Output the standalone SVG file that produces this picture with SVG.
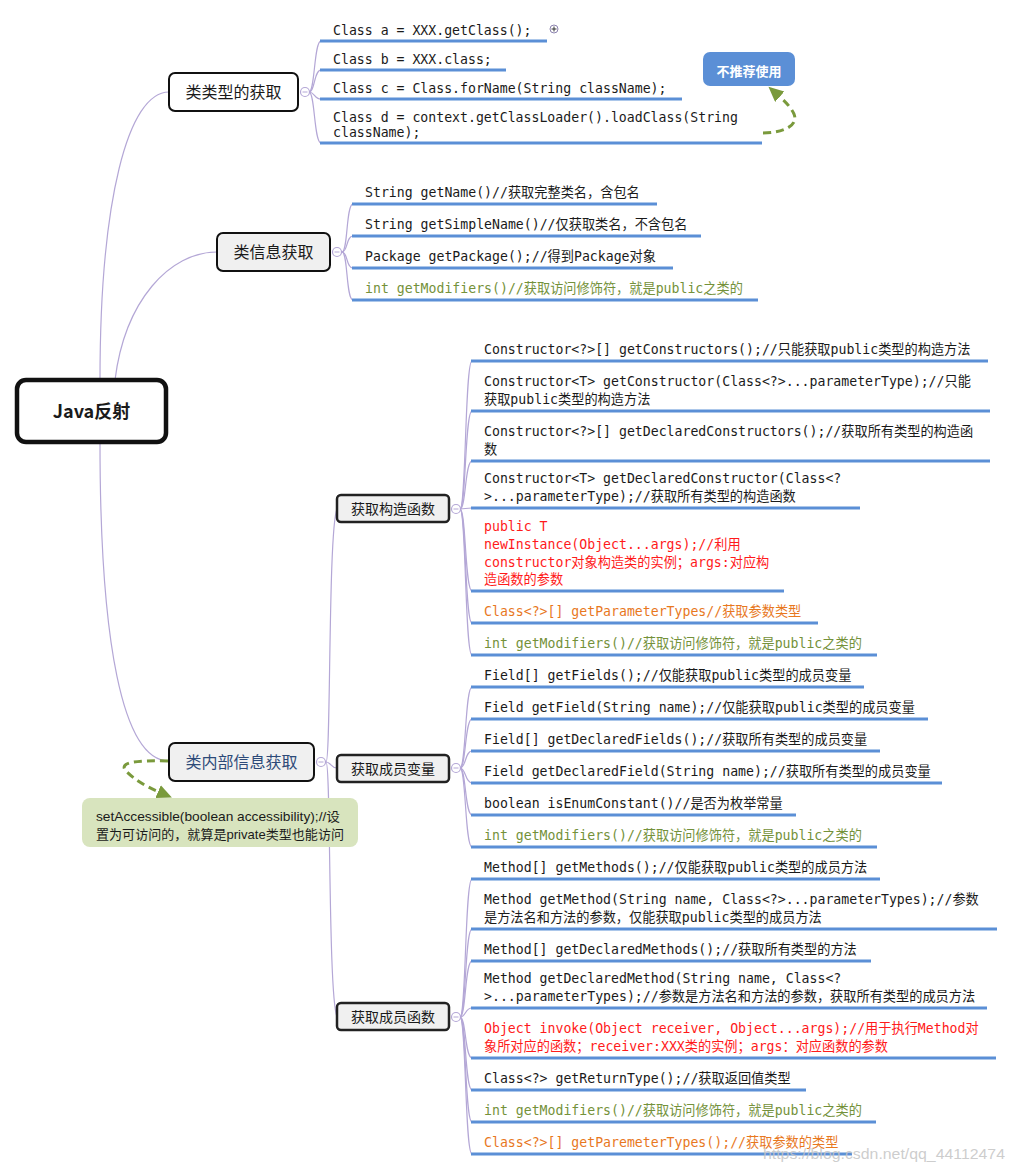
<svg xmlns="http://www.w3.org/2000/svg" width="1013" height="1171" viewBox="0 0 1013 1171">
<style>
.conn{fill:none;stroke:#b4a7d6;stroke-width:1.2}
.ul{stroke:#5b8fd6;stroke-width:3}
.code{font-family:"DejaVu Sans Mono","Noto Sans CJK SC",monospace;font-size:13.2px;fill:#1a1a1a;transform:translateY(1px)}
.red{fill:#ff1a1a}
.orange{fill:#e8781e}
.green{fill:#74913a}
.lbl{font-family:"Noto Sans CJK SC","Noto Sans",sans-serif;fill:#1a1a1a;text-anchor:middle}
.col{fill:#fff;stroke:#b4a7d6;stroke-width:1.2}
.dash{fill:none;stroke:#7a9a3c;stroke-width:3;stroke-dasharray:8 5}
</style>
<defs>
<marker id="ah" markerUnits="userSpaceOnUse" markerWidth="16" markerHeight="16" refX="1" refY="7" orient="auto">
<path d="M0,0 L15,7 L0,14 z" fill="#7a9a3c"/>
</marker>
</defs>

<g id="connectors">
<path class="conn" d="M100,380 C100,200 128,92 169,92"/>
<path class="conn" d="M115,380 C125,300 170,252 217,252"/>
<path class="conn" d="M100,443 C100,640 122,761 169,761"/>
<!-- branch 1 -->
<path class="conn" d="M309,92 C315,92 314,41 321,41"/>
<path class="conn" d="M309,92 C315,92 314,70 321,70"/>
<path class="conn" d="M309,92 C315,92 314,99 321,99"/>
<path class="conn" d="M309,92 C315,92 314,143 321,143"/>
<!-- branch 2 -->
<path class="conn" d="M342,252 C348,252 346,204 353,204"/>
<path class="conn" d="M342,252 C348,252 346,236 353,236"/>
<path class="conn" d="M342,252 C348,252 346,268 353,268"/>
<path class="conn" d="M342,252 C348,252 346,300 353,300"/>
<!-- branch 3 trunk -->
<path class="conn" d="M326,762 C331,762 328,530 337,509"/>
<path class="conn" d="M326,762 C331,762 331,768 337,768"/>
<path class="conn" d="M326,762 C331,762 328,995 337,1017"/>
<!-- constructors -->
<path class="conn" d="M460,509 C466,509 465,361 472,361"/>
<path class="conn" d="M460,509 C466,509 465,411 472,411"/>
<path class="conn" d="M460,509 C466,509 465,461 472,461"/>
<path class="conn" d="M460,509 C466,509 465,508 472,508"/>
<path class="conn" d="M460,509 C466,509 465,591 472,591"/>
<path class="conn" d="M460,509 C466,509 465,623 472,623"/>
<path class="conn" d="M460,509 C466,509 465,655 472,655"/>
<!-- fields -->
<path class="conn" d="M460,768 C466,768 465,687 472,687"/>
<path class="conn" d="M460,768 C466,768 465,719 472,719"/>
<path class="conn" d="M460,768 C466,768 465,751 472,751"/>
<path class="conn" d="M460,768 C466,768 465,783 472,783"/>
<path class="conn" d="M460,768 C466,768 465,815 472,815"/>
<path class="conn" d="M460,768 C466,768 465,847 472,847"/>
<!-- methods -->
<path class="conn" d="M460,1017 C466,1017 465,879 472,879"/>
<path class="conn" d="M460,1017 C466,1017 465,929 472,929"/>
<path class="conn" d="M460,1017 C466,1017 465,961 472,961"/>
<path class="conn" d="M460,1017 C466,1017 465,1008 472,1008"/>
<path class="conn" d="M460,1017 C466,1017 465,1058 472,1058"/>
<path class="conn" d="M460,1017 C466,1017 465,1090 472,1090"/>
<path class="conn" d="M460,1017 C466,1017 465,1122 472,1122"/>
<path class="conn" d="M460,1017 C466,1017 465,1154 472,1154"/>
<!-- callout arrows -->
<path class="dash" d="M763,133 C782,133 799,126 794,114 C791,108 787,103 779,96" marker-end="url(#ah)"/>
<path class="dash" d="M168,761 C138,760 116,762 127,772 C134,779 145,786 159,792" marker-end="url(#ah)"/>
</g>

<g id="root">
<rect x="17" y="380" width="149" height="62" rx="9" fill="#fff" stroke="#111" stroke-width="4.5"/>
<text class="lbl" x="91.5" y="418" font-size="18" font-weight="bold">Java反射</text>
</g>

<g id="n-class-type">
<rect x="169" y="73" width="129" height="38" rx="6" fill="#fff" stroke="#111" stroke-width="2"/>
<text class="lbl" x="233.5" y="98" font-size="16">类类型的获取</text>
<circle class="col" cx="305" cy="92" r="4.5"/><line x1="302.5" y1="92" x2="307.5" y2="92" stroke="#b4a7d6"/>
<line class="ul" x1="320" y1="41" x2="547" y2="41"/>
<text class="code" x="333" y="34">Class a = XXX.getClass();</text>
<circle cx="554" cy="29" r="4" fill="#fff" stroke="#8d84b0" stroke-width="1"/>
<line x1="551.5" y1="29" x2="556.5" y2="29" stroke="#333"/><line x1="554" y1="26.5" x2="554" y2="31.5" stroke="#333"/>
<line class="ul" x1="320" y1="70" x2="506" y2="70"/>
<text class="code" x="333" y="63">Class b = XXX.class;</text>
<line class="ul" x1="320" y1="99" x2="682" y2="99"/>
<text class="code" x="333" y="92">Class c = Class.forName(String className);</text>
<line class="ul" x1="320" y1="143" x2="762" y2="143"/>
<text class="code" x="333" y="121">Class d = context.getClassLoader().loadClass(String</text>
<text class="code" x="333" y="136">className);</text>
</g>

<g id="n-not-recommended">
<rect x="703" y="52" width="92" height="34" rx="7" fill="#5b8fd6"/>
<text class="lbl" x="749" y="75.5" font-size="13" font-weight="600" style="fill:#fff">不推荐使用</text>
</g>

<g id="n-class-info">
<rect x="217" y="233" width="113" height="38" rx="6" fill="#f0f0f0" stroke="#111" stroke-width="2"/>
<text class="lbl" x="273.5" y="258" font-size="16">类信息获取</text>
<circle class="col" cx="337" cy="252" r="4.5"/><line x1="334.5" y1="252" x2="339.5" y2="252" stroke="#b4a7d6"/>
<line class="ul" x1="352" y1="204" x2="657" y2="204"/>
<text class="code" x="365" y="196">String getName()//获取完整类名，含包名</text>
<line class="ul" x1="352" y1="236" x2="701" y2="236"/>
<text class="code" x="365" y="228">String getSimpleName()//仅获取类名，不含包名</text>
<line class="ul" x1="352" y1="268" x2="673" y2="268"/>
<text class="code" x="365" y="260">Package getPackage();//得到Package对象</text>
<line class="ul" x1="352" y1="300" x2="758" y2="300"/>
<text class="code green" x="365" y="292">int getModifiers()//获取访问修饰符，就是public之类的</text>
</g>

<g id="n-class-inner">
<rect x="169" y="743" width="145" height="38" rx="6" fill="#f0f0f0" stroke="#111" stroke-width="2"/>
<text class="lbl" x="241.5" y="768" font-size="16" style="fill:#2d4a78">类内部信息获取</text>
<circle class="col" cx="321" cy="762" r="4.5"/><line x1="318.5" y1="762" x2="323.5" y2="762" stroke="#b4a7d6"/>
</g>

<g id="n-set-accessible">
<rect x="82" y="798" width="276" height="49" rx="8" fill="#d8e4be"/>
<text x="96" y="821" font-family="'Liberation Sans','Noto Sans CJK SC',sans-serif" font-size="12.7" fill="#1a1a1a" textLength="244" lengthAdjust="spacingAndGlyphs">setAccessible(boolean accessibility);//设</text>
<text x="96" y="838.5" font-family="'Liberation Sans','Noto Sans CJK SC',sans-serif" font-size="12.7" fill="#1a1a1a" textLength="248" lengthAdjust="spacingAndGlyphs">置为可访问的，就算是private类型也能访问</text>
</g>

<g id="n-constructors">
<rect x="337" y="495" width="112" height="27" rx="4" fill="#f0f0f0" stroke="#222" stroke-width="2.5"/>
<text class="lbl" x="393" y="514" font-size="14">获取构造函数</text>
<circle class="col" cx="456" cy="509" r="4.5"/><line x1="453.5" y1="509" x2="458.5" y2="509" stroke="#b4a7d6"/>
<line class="ul" x1="471" y1="361" x2="988" y2="361"/>
<text class="code" x="484" y="353">Constructor&lt;?&gt;[] getConstructors();//只能获取public类型的构造方法</text>
<line class="ul" x1="471" y1="411" x2="990" y2="411"/>
<text class="code" x="484" y="385">Constructor&lt;T&gt; getConstructor(Class&lt;?&gt;...parameterType);//只能</text>
<text class="code" x="484" y="403">获取public类型的构造方法</text>
<line class="ul" x1="471" y1="461" x2="990" y2="461"/>
<text class="code" x="484" y="435">Constructor&lt;?&gt;[] getDeclaredConstructors();//获取所有类型的构造函</text>
<text class="code" x="484" y="453">数</text>
<line class="ul" x1="471" y1="508" x2="860" y2="508"/>
<text class="code" x="484" y="482">Constructor&lt;T&gt; getDeclaredConstructor(Class&lt;?</text>
<text class="code" x="484" y="500">&gt;...parameterType);//获取所有类型的构造函数</text>
<line class="ul" x1="471" y1="591" x2="784" y2="591"/>
<text class="code red" x="484" y="530">public T</text>
<text class="code red" x="484" y="548">newInstance(Object...args);//利用</text>
<text class="code red" x="484" y="565.5">constructor对象构造类的实例；args:对应构</text>
<text class="code red" x="484" y="583">造函数的参数</text>
<line class="ul" x1="471" y1="623" x2="818" y2="623"/>
<text class="code orange" x="484" y="615">Class&lt;?&gt;[] getParameterTypes//获取参数类型</text>
<line class="ul" x1="471" y1="655" x2="877" y2="655"/>
<text class="code green" x="484" y="647">int getModifiers()//获取访问修饰符，就是public之类的</text>
</g>

<g id="n-fields">
<rect x="337" y="755" width="112" height="27" rx="4" fill="#f0f0f0" stroke="#222" stroke-width="2.5"/>
<text class="lbl" x="393" y="774" font-size="14">获取成员变量</text>
<circle class="col" cx="456" cy="768" r="4.5"/><line x1="453.5" y1="768" x2="458.5" y2="768" stroke="#b4a7d6"/>
<line class="ul" x1="471" y1="687" x2="864" y2="687"/>
<text class="code" x="484" y="679">Field[] getFields();//仅能获取public类型的成员变量</text>
<line class="ul" x1="471" y1="719" x2="928" y2="719"/>
<text class="code" x="484" y="711">Field getField(String name);//仅能获取public类型的成员变量</text>
<line class="ul" x1="471" y1="751" x2="880" y2="751"/>
<text class="code" x="484" y="743">Field[] getDeclaredFields();//获取所有类型的成员变量</text>
<line class="ul" x1="471" y1="783" x2="942" y2="783"/>
<text class="code" x="484" y="775">Field getDeclaredField(String name);//获取所有类型的成员变量</text>
<line class="ul" x1="471" y1="815" x2="796" y2="815"/>
<text class="code" x="484" y="807">boolean isEnumConstant()//是否为枚举常量</text>
<line class="ul" x1="471" y1="847" x2="877" y2="847"/>
<text class="code green" x="484" y="839">int getModifiers()//获取访问修饰符，就是public之类的</text>
</g>

<g id="n-methods">
<rect x="337" y="1003" width="112" height="27" rx="4" fill="#f0f0f0" stroke="#222" stroke-width="2.5"/>
<text class="lbl" x="393" y="1022" font-size="14">获取成员函数</text>
<circle class="col" cx="456" cy="1017" r="4.5"/><line x1="453.5" y1="1017" x2="458.5" y2="1017" stroke="#b4a7d6"/>
<line class="ul" x1="471" y1="879" x2="880" y2="879"/>
<text class="code" x="484" y="871">Method[] getMethods();//仅能获取public类型的成员方法</text>
<line class="ul" x1="471" y1="929" x2="997" y2="929"/>
<text class="code" x="484" y="903">Method getMethod(String name, Class&lt;?&gt;...parameterTypes);//参数</text>
<text class="code" x="484" y="921">是方法名和方法的参数，仅能获取public类型的成员方法</text>
<line class="ul" x1="471" y1="961" x2="871" y2="961"/>
<text class="code" x="484" y="953">Method[] getDeclaredMethods();//获取所有类型的方法</text>
<line class="ul" x1="471" y1="1008" x2="987" y2="1008"/>
<text class="code" x="484" y="982">Method getDeclaredMethod(String name, Class&lt;?</text>
<text class="code" x="484" y="1000">&gt;...parameterTypes);//参数是方法名和方法的参数，获取所有类型的成员方法</text>
<line class="ul" x1="471" y1="1058" x2="996" y2="1058"/>
<text class="code red" x="484" y="1032">Object invoke(Object receiver, Object...args);//用于执行Method对</text>
<text class="code red" x="484" y="1050">象所对应的函数；receiver:XXX类的实例；args：对应函数的参数</text>
<line class="ul" x1="471" y1="1090" x2="806" y2="1090"/>
<text class="code" x="484" y="1082">Class&lt;?&gt; getReturnType();//获取返回值类型</text>
<line class="ul" x1="471" y1="1122" x2="876" y2="1122"/>
<text class="code green" x="484" y="1114">int getModifiers()//获取访问修饰符，就是public之类的</text>
<line class="ul" x1="471" y1="1154" x2="852" y2="1154"/>
<text class="code orange" x="484" y="1146">Class&lt;?&gt;[] getParemeterTypes();//获取参数的类型</text>
</g>

<text x="763" y="1159" font-family="'Liberation Sans',sans-serif" font-size="15" fill="#c4c4c4" fill-opacity="0.85" textLength="242" lengthAdjust="spacingAndGlyphs">https://blog.csdn.net/qq_44112474</text>
</svg>
